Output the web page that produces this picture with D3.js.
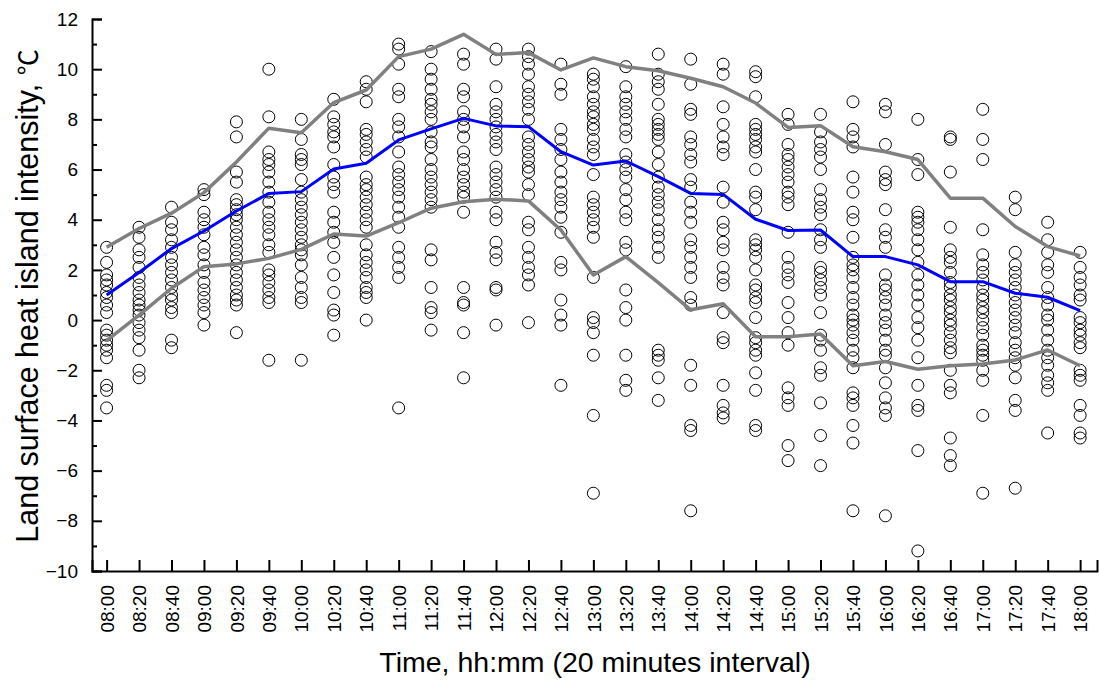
<!DOCTYPE html>
<html><head><meta charset="utf-8">
<script src="https://cdn.jsdelivr.net/npm/d3@7"></script>
<style>body{margin:0;background:#fff;} svg{display:block;font-family:"Liberation Sans",Arial,sans-serif;}</style>
</head><body>
<svg id="c" width="1099" height="682"></svg>
<script>
const times = ["08:00","08:20","08:40","09:00","09:20","09:40","10:00","10:20","10:40","11:00","11:20","11:40","12:00","12:20","12:40","13:00","13:20","13:40","14:00","14:20","14:40","15:00","15:20","15:40","16:00","16:20","16:40","17:00","17:20","17:40","18:00"];

const meanLine = [1.0,1.9,2.85,3.55,4.35,5.05,5.12,6.02,6.25,7.18,7.62,8.04,7.74,7.71,6.71,6.18,6.34,5.72,5.05,5.01,4.02,3.57,3.59,2.53,2.53,2.2,1.53,1.53,1.07,0.91,0.38];
const upperLine = [2.9,3.65,4.26,5.08,6.3,7.65,7.47,8.67,9.17,10.5,10.8,11.39,10.59,10.66,9.97,10.45,10.1,9.94,9.64,9.3,8.65,7.68,7.75,6.91,6.71,6.4,4.86,4.86,3.73,2.93,2.56];
const lowerLine = [-0.82,0.2,1.27,2.13,2.24,2.46,2.82,3.43,3.35,3.88,4.46,4.72,4.82,4.75,3.59,1.8,2.53,1.49,0.41,0.65,-0.66,-0.66,-0.55,-1.82,-1.65,-1.96,-1.82,-1.75,-1.59,-1.19,-1.82];

const samples = [
 [2.9,2.3,1.8,1.6,1.4,1.1,0.9,0.6,0.3,-0.4,-0.6,-0.8,-1.0,-1.2,-1.5,-2.6,-2.8,-3.5],
 [3.7,3.3,2.8,2.5,2.1,1.7,1.4,1.1,0.8,0.6,0.4,0.2,-0.1,-0.4,-0.7,-1.2,-2.0,-2.3],
 [4.5,3.9,3.6,3.2,2.9,2.5,2.2,1.9,1.6,1.3,1.0,0.8,0.5,0.3,-0.8,-1.1],
 [5.2,5.0,4.3,4.0,3.7,3.4,2.9,2.6,2.2,1.9,1.5,1.2,0.9,0.6,0.3,-0.2],
 [7.9,7.3,5.9,5.5,4.8,4.6,4.4,4.2,4.0,3.7,3.4,3.1,2.8,2.5,2.2,1.9,1.6,1.3,1.0,0.8,0.6,-0.5],
 [10.0,8.1,6.7,6.4,6.2,5.9,5.5,5.1,4.7,4.3,4.0,3.7,3.4,3.0,2.7,2.0,1.8,1.5,1.2,0.9,0.7,-1.6],
 [8.0,7.2,6.6,6.4,6.2,5.6,5.1,4.8,4.5,4.2,3.9,3.6,3.3,3.0,2.8,2.6,2.2,1.7,1.3,0.9,0.7,-1.6],
 [8.8,8.1,7.8,7.5,7.3,6.9,6.2,5.7,5.4,5.1,4.3,3.9,3.5,3.1,2.5,1.8,1.1,0.4,0.2,-0.6],
 [9.5,9.2,8.7,7.6,7.4,7.1,6.8,6.5,5.7,5.4,5.2,4.9,4.6,4.3,4.0,3.7,3.0,2.6,2.3,2.0,1.7,1.3,1.1,0.9,0.0],
 [11.0,10.8,10.2,9.2,8.9,8.0,7.7,7.3,6.7,6.1,5.8,5.5,5.2,4.9,4.5,4.1,3.7,2.9,2.5,2.1,1.7,-3.5],
 [10.7,10.0,9.6,9.2,8.8,8.6,8.3,8.0,7.5,7.1,6.9,6.4,6.0,5.7,5.4,5.1,4.8,4.5,2.8,2.4,1.3,0.5,0.3,-0.4],
 [10.6,10.2,9.2,8.9,8.3,8.0,7.7,7.3,6.7,6.4,6.0,5.7,5.4,5.1,4.9,4.3,1.3,0.7,0.6,-0.5,-2.3],
 [10.8,10.4,9.3,8.6,8.3,8.0,7.7,7.4,7.1,6.8,6.1,5.8,5.5,5.2,4.9,4.3,4.0,3.1,2.7,2.4,1.3,1.2,-0.2],
 [10.8,10.5,10.2,9.8,9.3,9.0,8.7,8.4,8.0,7.3,7.0,6.7,6.4,6.1,5.9,5.4,5.0,3.9,3.6,2.9,2.5,2.1,1.8,1.4,-0.1],
 [10.2,9.4,9.0,7.6,7.2,6.8,6.4,5.9,5.5,5.1,4.8,4.5,4.1,3.5,2.3,2.0,0.8,0.2,-0.2,-2.6],
 [9.8,9.6,9.3,8.9,8.6,8.3,8.1,7.8,7.6,7.2,6.9,6.6,5.8,4.9,4.6,4.3,4.0,3.7,3.3,1.7,0.1,-0.1,-0.5,-1.4,-3.8,-6.9],
 [10.1,9.3,8.9,8.6,8.3,8.0,7.6,7.3,6.6,6.3,6.0,5.7,5.2,4.8,4.3,4.0,3.1,2.8,1.2,0.5,0.0,-1.4,-2.4,-2.8],
 [10.6,9.8,9.5,9.2,8.6,8.0,7.8,7.6,7.4,7.2,6.7,6.2,5.7,5.3,5.0,4.7,4.4,4.0,3.6,3.3,2.9,2.5,-1.2,-1.4,-1.6,-2.3,-3.2],
 [10.4,9.4,8.4,8.2,7.3,7.0,6.6,6.3,5.6,5.3,4.7,4.3,3.9,3.2,2.9,2.5,2.1,1.7,0.9,0.6,-1.8,-2.6,-4.2,-4.4,-7.6],
 [10.2,9.8,8.5,7.8,7.3,6.9,6.6,5.3,4.7,3.9,3.6,3.1,2.8,2.1,1.7,1.4,0.3,-0.7,-0.9,-2.6,-3.4,-3.7,-3.9],
 [9.9,9.7,8.9,7.8,7.6,7.4,7.2,6.9,6.7,6.0,5.1,4.9,4.4,3.2,3.0,2.8,2.5,2.0,1.4,1.2,0.9,0.7,0.1,-0.7,-0.9,-1.2,-1.4,-2.1,-2.8,-4.2,-4.4],
 [8.2,7.8,7.0,6.6,6.4,6.1,5.8,5.5,5.1,4.9,4.6,3.5,2.5,2.1,1.8,1.5,0.7,0.1,-0.5,-1.0,-2.7,-3.1,-3.4,-5.0,-5.6],
 [8.2,7.5,7.1,6.8,6.5,6.0,5.2,4.8,4.5,4.2,3.6,3.2,2.9,2.1,1.9,1.6,1.3,1.0,0.3,-0.6,-0.8,-1.2,-1.9,-2.2,-3.3,-4.6,-5.8],
 [8.7,7.6,7.3,6.9,5.7,5.1,4.3,4.0,3.3,2.5,2.2,2.0,1.7,1.3,0.9,0.6,0.2,0.0,-0.2,-0.5,-0.8,-1.2,-1.5,-1.9,-2.9,-3.1,-3.4,-4.2,-4.9,-7.6],
 [8.6,8.3,7.0,5.9,5.6,5.4,4.4,3.6,3.3,2.9,1.8,1.4,1.2,0.9,0.6,0.2,-0.1,-0.4,-0.8,-1.2,-1.4,-1.9,-2.5,-3.1,-3.5,-3.8,-7.8],
 [8.0,6.4,5.8,4.3,4.1,3.9,3.6,3.2,2.8,2.3,1.8,1.4,1.0,0.6,0.1,-0.3,-0.8,-1.5,-2.6,-3.4,-3.6,-5.2,-9.2],
 [7.3,7.2,5.9,3.7,2.8,2.5,2.3,1.9,1.5,1.3,1.0,0.8,0.5,0.3,0.0,-0.2,-0.5,-0.8,-1.1,-1.3,-2.0,-2.6,-2.9,-4.7,-5.4,-5.8],
 [8.4,7.2,6.4,3.6,2.6,2.2,1.9,1.6,1.3,1.0,0.8,0.5,0.3,0.0,-0.3,-0.6,-1.0,-1.2,-1.4,-1.6,-2.0,-2.4,-3.8,-6.9],
 [4.9,4.4,2.7,2.2,1.9,1.6,1.3,1.0,0.7,0.4,0.1,-0.2,-0.5,-0.9,-1.2,-1.5,-1.8,-2.3,-3.2,-3.6,-6.7],
 [3.9,3.2,2.7,2.2,1.9,1.3,0.9,0.6,0.2,0.0,-0.4,-0.8,-1.2,-1.5,-1.8,-2.2,-2.5,-2.8,-4.5],
 [2.7,2.1,1.7,1.4,1.0,0.8,0.1,-0.1,-0.4,-0.6,-0.9,-1.1,-2.0,-2.2,-2.4,-3.4,-3.8,-4.5,-4.7]
];

const yTicks = [12,10,8,6,4,2,0,-2,-4,-6,-8,-10];
const yMinorTicks = [11,9,7,5,3,1,-1,-3,-5,-7,-9];

const svg = d3.select("#c");
const x = d3.scaleLinear().domain([-0.45, 30.52]).range([92, 1097]);
const y = d3.scaleLinear().domain([-10, 12]).range([571, 19]);

// scatter
const pts = [];
samples.forEach((arr,i)=>arr.forEach(v=>pts.push({i,v})));
svg.append("g").selectAll("circle").data(pts).join("circle")
  .attr("cx", d=>x(d.i)).attr("cy", d=>y(d.v)).attr("r", 6)
  .attr("fill","none").attr("stroke","#000").attr("stroke-width",1);

const line = d3.line().x((d,i)=>x(i)).y(d=>y(d));
svg.append("path").attr("d", line(upperLine)).attr("fill","none").attr("stroke","#808080").attr("stroke-width",3.5).attr("stroke-linejoin","round");
svg.append("path").attr("d", line(lowerLine)).attr("fill","none").attr("stroke","#808080").attr("stroke-width",3.5).attr("stroke-linejoin","round");
svg.append("path").attr("d", line(meanLine)).attr("fill","none").attr("stroke","#0000ff").attr("stroke-width",3).attr("stroke-linejoin","round");

// y axis
svg.append("g").attr("transform","translate(92,0)")
  .call(d3.axisLeft(y).tickValues(yTicks).tickSize(-10).tickPadding(14).tickFormat(d3.format("d")));
svg.append("g").attr("transform","translate(92,0)")
  .call(d3.axisLeft(y).tickValues(yMinorTicks).tickSize(-5).tickFormat(""))
  .call(g=>g.select(".domain").remove());
// x axis
const xa = svg.append("g").attr("transform","translate(0,571)")
  .call(d3.axisBottom(x).tickValues(d3.range(times.length)).tickSize(-11).tickPadding(0).tickFormat(i=>times[i]));
xa.selectAll("text").attr("transform","rotate(-90)").attr("text-anchor","end")
  .attr("x",-14).attr("y",0).attr("dy","0.35em");

svg.selectAll(".domain").attr("stroke","#000").attr("stroke-width",2);
svg.selectAll(".tick line").attr("stroke","#000").attr("stroke-width",2);
svg.selectAll(".tick text").attr("font-size",19).attr("fill","#000").attr("font-family","'Liberation Sans',Arial,sans-serif");

svg.append("text").attr("x",595).attr("y",672).attr("text-anchor","middle")
  .attr("font-size",28.5).text("Time, hh:mm (20 minutes interval)");
const yt = svg.append("text").attr("transform","translate(38,296) rotate(-90)").attr("text-anchor","middle")
  .attr("font-size",30.5);
yt.append("tspan").text("Land surface heat island intensity, ");
yt.append("tspan").attr("font-family","'Noto Sans CJK SC',sans-serif").attr("font-size",26).text("℃");
</script>
</body></html>
